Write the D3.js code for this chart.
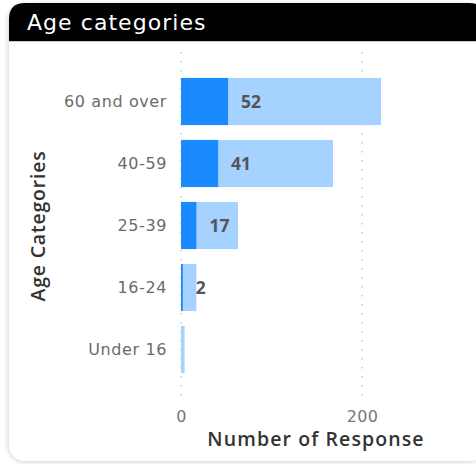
<!DOCTYPE html>
<html>
<head>
<meta charset="utf-8">
<script src="https://cdn.jsdelivr.net/npm/d3@7"></script>
<style>
  html, body { margin: 0; padding: 0; background: #ffffff; }
  svg { display: block; }
</style>
</head>
<body>
<svg id="chart" width="476" height="464"></svg>
<script>
// Age bands, top to bottom
const categories = ["60 and over", "40-59", "25-39", "16-24", "Under 16"];
// Total responses per band (light bar)
const totalValues = [221, 168, 63, 17, 4];
// Highlighted responses per band (dark bar, labelled)
const responseValues = [52, 41, 17, 2, 0];
// Axis tick values
const xTicks = [0, 200];

const svg = d3.select("#chart");
const W = 476, H = 464;
const sans = "'DejaVu Sans', 'Open Sans', sans-serif";
const semi = "'Open Sans', 'DejaVu Sans', sans-serif";

// soft card shadow
const defs = svg.append("defs");
const f = defs.append("filter").attr("id", "shadow").attr("x", "-10%").attr("y", "-10%").attr("width", "120%").attr("height", "120%");
f.append("feGaussianBlur").attr("in", "SourceAlpha").attr("stdDeviation", 2.5);
f.append("feOffset").attr("dx", -1).attr("dy", 1).attr("result", "b");
f.append("feComponentTransfer").append("feFuncA").attr("type", "linear").attr("slope", 0.18);
const fm = f.append("feMerge");
fm.append("feMergeNode");
fm.append("feMergeNode").attr("in", "SourceGraphic");

const cardX = 9, cardY = 3, cardW = 476, cardH = 458, r = 16;

// card body
svg.append("rect")
  .attr("x", cardX).attr("y", cardY)
  .attr("width", cardW).attr("height", cardH)
  .attr("rx", r).attr("ry", r)
  .attr("fill", "#ffffff")
  .attr("filter", "url(#shadow)");

// header band with rounded top corners
const hTop = cardY, hBot = 41;
const right = cardX + cardW;
svg.append("path")
  .attr("d", `M${cardX},${hBot} L${cardX},${hTop + r} Q${cardX},${hTop} ${cardX + r},${hTop}
              L${right - r},${hTop} Q${right},${hTop} ${right},${hTop + r} L${right},${hBot} Z`)
  .attr("fill", "#000000");
svg.append("line")
  .attr("x1", cardX).attr("x2", W).attr("y1", hBot + 0.5).attr("y2", hBot + 0.5)
  .attr("stroke", "#c8c8c8").attr("stroke-width", 1);

svg.append("text")
  .attr("x", 27).attr("y", 30)
  .attr("fill", "#ffffff")
  .attr("font-family", sans)
  .attr("font-size", 22)
  .attr("letter-spacing", 1.05)
  .text("Age categories");

// scales
const x = d3.scaleLinear().domain([0, 200]).range([181, 362]);
const y = d3.scaleBand().domain(categories).range([70.5, 380.5]).paddingInner(0.24).paddingOuter(0.12);

// dotted gridlines
svg.append("g").selectAll("line").data(xTicks).join("line")
  .attr("x1", d => x(d)).attr("x2", d => x(d))
  .attr("y1", 52).attr("y2", 396)
  .attr("stroke", "#c8c8c8")
  .attr("stroke-width", 1.5)
  .attr("stroke-dasharray", "1.5,7.5");

// light total bars
svg.append("g").selectAll("rect").data(categories).join("rect")
  .attr("x", x(0))
  .attr("y", d => y(d))
  .attr("width", (d, i) => x(totalValues[i]) - x(0))
  .attr("height", y.bandwidth())
  .attr("fill", "#a6d2ff");

// dark response bars
svg.append("g").selectAll("rect").data(categories).join("rect")
  .attr("x", x(0))
  .attr("y", d => y(d))
  .attr("width", (d, i) => Math.max(0, x(responseValues[i]) - x(0)))
  .attr("height", y.bandwidth())
  .attr("fill", "#1a8bff");

// value labels
svg.append("g").selectAll("text").data(categories).join("text")
  .filter((d, i) => responseValues[i] > 0)
  .attr("x", d => x(responseValues[categories.indexOf(d)]) + 13)
  .attr("y", d => y(d) + y.bandwidth() / 2)
  .attr("dy", "0.36em")
  .attr("fill", "#555555")
  .attr("font-family", semi)
  .attr("font-weight", 700)
  .attr("font-size", 17.5)
  .text(d => responseValues[categories.indexOf(d)]);

// y axis (category labels)
const yAxis = svg.append("g")
  .attr("transform", `translate(${x(0)},0)`)
  .call(d3.axisLeft(y).tickSize(0).tickPadding(14));
yAxis.select(".domain").remove();
yAxis.selectAll("text")
  .attr("fill", "#6b6b6b")
  .attr("font-family", sans)
  .attr("font-size", 16)
  .attr("letter-spacing", 0.6);

// x axis ticks
const xAxis = svg.append("g")
  .attr("transform", `translate(0,407)`)
  .call(d3.axisBottom(x).tickValues(xTicks).tickSize(0).tickPadding(4));
xAxis.select(".domain").remove();
xAxis.selectAll("text")
  .attr("fill", "#777777")
  .attr("font-family", sans)
  .attr("font-size", 16)
  .attr("letter-spacing", 0.4);

// axis titles
svg.append("text")
  .attr("x", 316).attr("y", 446)
  .attr("text-anchor", "middle")
  .attr("fill", "#333333")
  .attr("font-family", semi)
  .attr("font-weight", 600)
  .attr("font-size", 19.5)
  .attr("letter-spacing", 1.1)
  .text("Number of Response");

svg.append("text")
  .attr("transform", "translate(45,226) rotate(-90)")
  .attr("text-anchor", "middle")
  .attr("fill", "#333333")
  .attr("font-family", semi)
  .attr("font-weight", 600)
  .attr("font-size", 19.5)
  .attr("letter-spacing", 0.8)
  .text("Age Categories");
</script>
</body>
</html>
